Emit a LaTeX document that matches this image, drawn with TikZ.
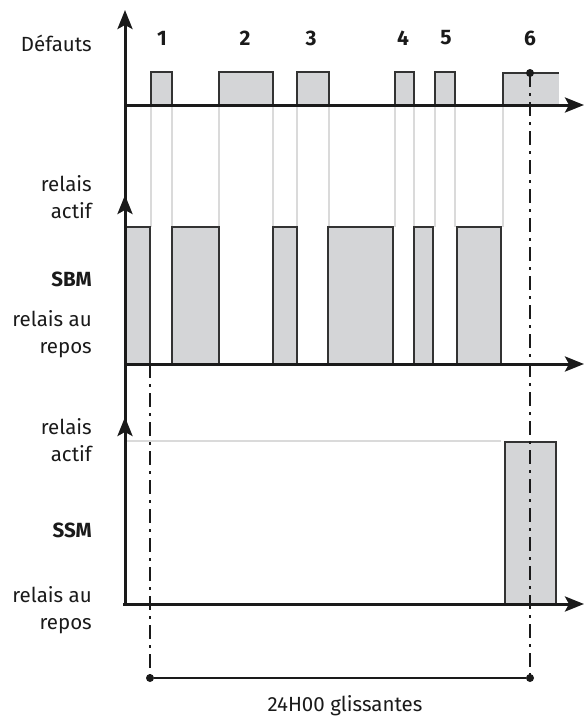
\documentclass[tikz,border=0pt]{standalone}
\usepackage{fontspec}
\setmainfont{Fira Sans}
\usetikzlibrary{arrows.meta}
\definecolor{pulsefill}{HTML}{D4D5D7}
\definecolor{boxline}{HTML}{333333}
\definecolor{guidegray}{HTML}{DADADA}
\definecolor{inkblack}{HTML}{1A1A1A}
\begin{document}
\begin{tikzpicture}[x=1pt,y=-1pt,
  axisline/.style={draw=inkblack,line width=3pt},
  axisarrow/.style={draw=inkblack,line width=3pt,-{Stealth[length=19pt,width=15pt,inset=4pt]}},
  pulse/.style={fill=pulsefill,draw=boxline,line width=1.3pt},
  guide/.style={draw=guidegray,line width=2pt},
  dashdotline/.style={draw=inkblack,line width=2.6pt,dash pattern=on 14pt off 6pt on 3pt off 6pt},
  lbl/.style={font=\fontsize{20.5}{27}\selectfont,align=right,anchor=east,inner sep=0pt,text=inkblack},
  num/.style={font=\bfseries\fontsize{21}{23}\selectfont,inner sep=0pt,text=inkblack},
  dimdot/.style={circle,fill=inkblack,inner sep=0pt,minimum size=8pt}]
\useasboundingbox (0,0) rectangle (585,718);

% ---------- coordinates ----------
\coordinate (vtop) at (125,10);
\coordinate (vbot) at (125,604);
\coordinate (d0) at (125,105);
\coordinate (d1) at (584,105);
\coordinate (s0) at (125,364);
\coordinate (s1) at (584,364);
\coordinate (m0) at (123,604);
\coordinate (m1) at (584,604);

% ---------- guide lines ----------
\foreach \x in {151,172,219,273,297,329,395,414,435,455,503}
  \draw[guide] (\x,106) -- (\x,227);
\draw[guide] (126,441) -- (501,441);

% ---------- Défauts pulses ----------
\draw[pulse] (151,105) rectangle (172,72);
\draw[pulse] (219,105) rectangle (273,72);
\draw[pulse] (297,105) rectangle (329,72);
\draw[pulse] (395,105) rectangle (414,72);
\draw[pulse] (435,105) rectangle (455,72);
\fill[pulsefill] (503,73) rectangle (559,105);
\draw[boxline,line width=1.3pt] (503,105) |- (559,73);

% ---------- SBM pulses ----------
\draw[pulse] (125,364) rectangle (150,227);
\draw[pulse] (172,364) rectangle (219,227);
\draw[pulse] (273,364) rectangle (297,227);
\draw[pulse] (328,364) rectangle (393,227);
\draw[pulse] (414,364) rectangle (433,227);
\draw[pulse] (457,364) rectangle (501,227);

% ---------- SSM pulse ----------
\draw[pulse] (505,604) rectangle (556,442);

% ---------- axes ----------
\draw[axisline] (vbot) -- (125,30);
\draw[axisarrow] (125,40) -- (vtop);
\draw[axisarrow] (125,225) -- (125,195);
\draw[axisarrow] (125,447) -- (125,417);
\draw[axisarrow] (d0) -- (d1);
\draw[axisarrow] (s0) -- (s1);
\draw[axisarrow] (m0) -- (m1);

% ---------- dash-dot lines and dimension ----------
\node[dimdot] (dimL) at (150,678) {};
\node[dimdot] (dimR) at (530,678) {};
\node[dimdot] (top6) at (530,73) {};
\coordinate (startL) at (150,364);
\draw[dashdotline] (startL) -- (dimL.center);
\draw[dashdotline] (top6.center) -- (dimR.center);
\draw[draw=inkblack,line width=2pt] (dimL) -- (dimR);
\node[font=\fontsize{20.5}{23}\selectfont,text=inkblack] (glis) at (345,706) {24H00 glissantes};

% ---------- numbers ----------
\node[num] (n1) at (162,38) {1};
\node[num] (n2) at (245,38) {2};
\node[num] (n3) at (311,38) {3};
\node[num] (n4) at (403,38) {4};
\node[num] (n5) at (446,38) {5};
\node[num] (n6) at (530,38) {6};

% ---------- labels ----------
\node[lbl] (ldef) at (92,43) {Défauts};
\node[lbl] (la1) at (92,197) {relais\\actif};
\node[lbl,font=\bfseries\fontsize{20.5}{27}\selectfont] (lsbm) at (92,279) {SBM};
\node[lbl] (lr1) at (92,334) {relais au\\repos};
\node[lbl] (la2) at (92,440) {relais\\actif};
\node[lbl,font=\bfseries\fontsize{20.5}{27}\selectfont] (lssm) at (92,530) {SSM};
\node[lbl] (lr2) at (92,610) {relais au\\repos};
\end{tikzpicture}
\end{document}
